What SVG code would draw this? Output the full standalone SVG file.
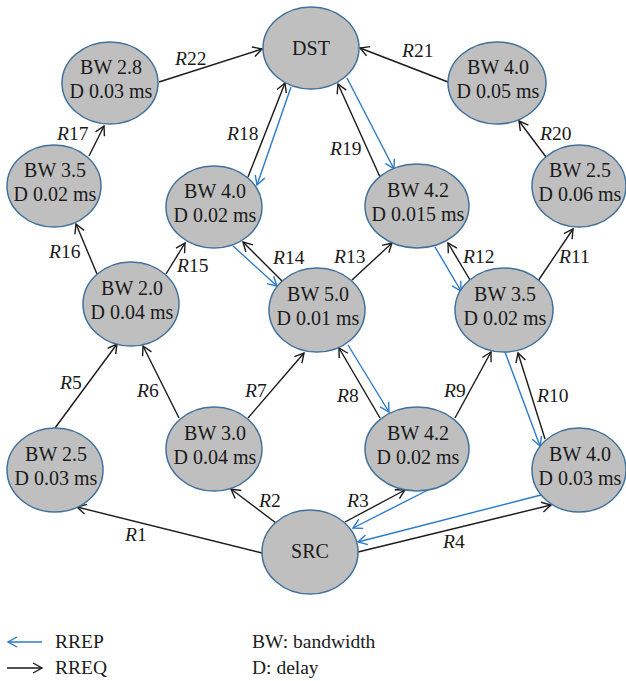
<svg xmlns="http://www.w3.org/2000/svg" width="626" height="681" viewBox="0 0 626 681" font-family="Liberation Serif, serif">
  <style>
    .node ellipse { fill: #bfbfbf; stroke: #41719c; stroke-width: 1.5; }
    .t { font-size: 20px; fill: #1a1a1a; text-anchor: middle; }
    .lbl { font-size: 19.5px; fill: #1a1a1a; }
    .i { font-style: italic; }
    .req { stroke: #1a1a1a; stroke-width: 1.4; fill: none; marker-end: url(#arrowK); }
    .rep { stroke: #2a7ac9; stroke-width: 1.4; fill: none; marker-end: url(#arrowB); }
  </style>
  <defs>
    <marker id="arrowK" viewBox="0 0 12 12" refX="10" refY="6" markerWidth="12" markerHeight="12" markerUnits="userSpaceOnUse" orient="auto">
      <path d="M1,1 L10,6 L1,11" fill="none" stroke="#1a1a1a" stroke-width="1.4"/>
    </marker>
    <marker id="arrowB" viewBox="0 0 12 12" refX="10" refY="6" markerWidth="12" markerHeight="12" markerUnits="userSpaceOnUse" orient="auto">
      <path d="M1,1 L10,6 L1,11" fill="none" stroke="#2a7ac9" stroke-width="1.4"/>
    </marker>
  </defs>

  <rect width="626" height="681" fill="#ffffff"/>

  <!-- connectors: black = RREQ, blue = RREP -->
  <g id="connectors">
    <line class="req" x1="159" y1="82" x2="262" y2="49"/>
    <line class="req" x1="89" y1="156" x2="104" y2="126"/>
    <line class="req" x1="248" y1="177" x2="285" y2="83"/>
    <line class="rep" x1="291" y1="87" x2="257" y2="185"/>
    <line class="req" x1="448" y1="82" x2="360" y2="48"/>
    <line class="req" x1="380" y1="177" x2="338" y2="84"/>
    <line class="rep" x1="347" y1="78" x2="394" y2="169"/>
    <line class="req" x1="546" y1="157" x2="519" y2="121"/>
    <line class="req" x1="97" y1="274" x2="76" y2="224"/>
    <line class="req" x1="166" y1="274" x2="185" y2="243"/>
    <line class="req" x1="283" y1="282" x2="243" y2="242"/>
    <line class="rep" x1="233" y1="246" x2="277" y2="286"/>
    <line class="req" x1="55" y1="428" x2="117" y2="344"/>
    <line class="req" x1="179" y1="418" x2="143" y2="346"/>
    <line class="req" x1="248" y1="418" x2="304" y2="353"/>
    <line class="req" x1="352" y1="280" x2="392" y2="243"/>
    <line class="req" x1="470" y1="280" x2="448" y2="243"/>
    <line class="rep" x1="435" y1="247" x2="461" y2="291"/>
    <line class="req" x1="538" y1="281" x2="573" y2="229"/>
    <line class="req" x1="380" y1="418" x2="339" y2="348"/>
    <line class="rep" x1="348" y1="345" x2="389" y2="412"/>
    <line class="req" x1="455" y1="418" x2="491" y2="352"/>
    <line class="req" x1="545" y1="439" x2="518" y2="353"/>
    <line class="rep" x1="505" y1="352" x2="540" y2="446"/>
    <line class="req" x1="262" y1="553" x2="77" y2="507"/>
    <line class="req" x1="276" y1="523" x2="231" y2="489"/>
    <line class="req" x1="345" y1="522" x2="405" y2="490"/>
    <line class="rep" x1="430" y1="489" x2="353" y2="528"/>
    <line class="req" x1="358" y1="552" x2="551" y2="505"/>
    <line class="rep" x1="541" y1="495" x2="358" y2="542"/>
  </g>

  <!-- connector labels -->
  <g id="connector-labels" class="lbl">
    <text x="175" y="65"><tspan class="i">R</tspan>22</text>
    <text x="57" y="140"><tspan class="i">R</tspan>17</text>
    <text x="227" y="140"><tspan class="i">R</tspan>18</text>
    <text x="402" y="57"><tspan class="i">R</tspan>21</text>
    <text x="330" y="155"><tspan class="i">R</tspan>19</text>
    <text x="540" y="140"><tspan class="i">R</tspan>20</text>
    <text x="49" y="258"><tspan class="i">R</tspan>16</text>
    <text x="177" y="272"><tspan class="i">R</tspan>15</text>
    <text x="273" y="264"><tspan class="i">R</tspan>14</text>
    <text x="334" y="263"><tspan class="i">R</tspan>13</text>
    <text x="463" y="263"><tspan class="i">R</tspan>12</text>
    <text x="559" y="263"><tspan class="i">R</tspan>11</text>
    <text x="60" y="389"><tspan class="i">R</tspan>5</text>
    <text x="137" y="397"><tspan class="i">R</tspan>6</text>
    <text x="245" y="397"><tspan class="i">R</tspan>7</text>
    <text x="337" y="402"><tspan class="i">R</tspan>8</text>
    <text x="444" y="397"><tspan class="i">R</tspan>9</text>
    <text x="537" y="402"><tspan class="i">R</tspan>10</text>
    <text x="125" y="541"><tspan class="i">R</tspan>1</text>
    <text x="259" y="507"><tspan class="i">R</tspan>2</text>
    <text x="347" y="507"><tspan class="i">R</tspan>3</text>
    <text x="443" y="548"><tspan class="i">R</tspan>4</text>
  </g>

  <!-- nodes -->
  <g id="dst" class="node">
    <ellipse cx="311" cy="48" rx="48" ry="41"/>
    <text class="t" x="311" y="55">DST</text>
  </g>
  <g id="n-bw28" class="node">
    <ellipse cx="110" cy="83" rx="48" ry="41"/>
    <text class="t" x="111" y="74">BW 2.8</text>
    <text class="t" x="111" y="98">D 0.03 ms</text>
  </g>
  <g id="n-bw35-left" class="node">
    <ellipse cx="54" cy="186" rx="47" ry="41"/>
    <text class="t" x="55" y="177">BW 3.5</text>
    <text class="t" x="55" y="201">D 0.02 ms</text>
  </g>
  <g id="n-bw40-mid" class="node">
    <ellipse cx="214" cy="207" rx="48" ry="41"/>
    <text class="t" x="215" y="198">BW 4.0</text>
    <text class="t" x="215" y="222">D 0.02 ms</text>
  </g>
  <g id="n-bw40-top" class="node">
    <ellipse cx="497" cy="83" rx="49" ry="41"/>
    <text class="t" x="498" y="74">BW 4.0</text>
    <text class="t" x="498" y="98">D 0.05 ms</text>
  </g>
  <g id="n-bw42-top" class="node">
    <ellipse cx="417" cy="206" rx="52" ry="42"/>
    <text class="t" x="418" y="197">BW 4.2</text>
    <text class="t" x="418" y="221">D 0.015 ms</text>
  </g>
  <g id="n-bw25-right" class="node">
    <ellipse cx="579" cy="186" rx="47" ry="41"/>
    <text class="t" x="580" y="177">BW 2.5</text>
    <text class="t" x="580" y="201">D 0.06 ms</text>
  </g>
  <g id="n-bw20" class="node">
    <ellipse cx="131" cy="304" rx="48" ry="42"/>
    <text class="t" x="132" y="295">BW 2.0</text>
    <text class="t" x="132" y="319">D 0.04 ms</text>
  </g>
  <g id="n-bw50" class="node">
    <ellipse cx="317" cy="310" rx="48" ry="42"/>
    <text class="t" x="318" y="301">BW 5.0</text>
    <text class="t" x="318" y="325">D 0.01 ms</text>
  </g>
  <g id="n-bw35-right" class="node">
    <ellipse cx="504" cy="310" rx="49" ry="42"/>
    <text class="t" x="505" y="301">BW 3.5</text>
    <text class="t" x="505" y="325">D 0.02 ms</text>
  </g>
  <g id="n-bw25-left" class="node">
    <ellipse cx="55" cy="470" rx="48" ry="42"/>
    <text class="t" x="56" y="461">BW 2.5</text>
    <text class="t" x="56" y="485">D 0.03 ms</text>
  </g>
  <g id="n-bw30" class="node">
    <ellipse cx="214" cy="449" rx="48" ry="42"/>
    <text class="t" x="215" y="440">BW 3.0</text>
    <text class="t" x="215" y="464">D 0.04 ms</text>
  </g>
  <g id="n-bw42-bottom" class="node">
    <ellipse cx="417" cy="449" rx="52" ry="42"/>
    <text class="t" x="418" y="440">BW 4.2</text>
    <text class="t" x="418" y="464">D 0.02 ms</text>
  </g>
  <g id="n-bw40-bottom" class="node">
    <ellipse cx="579" cy="470" rx="47" ry="42"/>
    <text class="t" x="580" y="461">BW 4.0</text>
    <text class="t" x="580" y="485">D 0.03 ms</text>
  </g>
  <g id="src" class="node">
    <ellipse cx="310" cy="552" rx="48" ry="42"/>
    <text class="t" x="310" y="558">SRC</text>
  </g>

  <!-- legend -->
  <g id="legend" class="lbl">
    <line class="rep" x1="42" y1="642" x2="8" y2="642"/>
    <line class="req" x1="7" y1="668" x2="42" y2="668"/>
    <text x="55" y="648">RREP</text>
    <text x="55" y="674">RREQ</text>
    <text x="252" y="648">BW: bandwidth</text>
    <text x="252" y="674">D: delay</text>
  </g>
</svg>
